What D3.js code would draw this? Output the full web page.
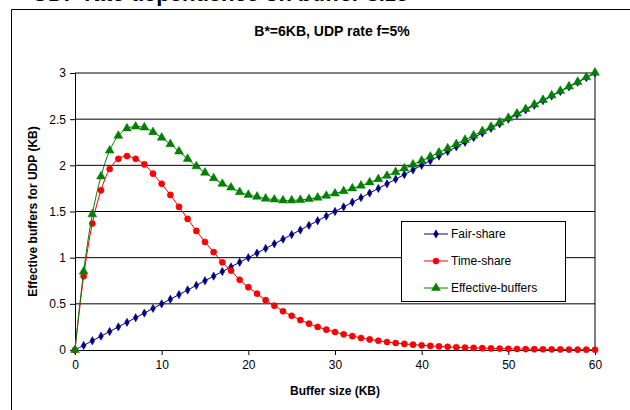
<!DOCTYPE html>
<html>
<head>
<meta charset="utf-8">
<script src="https://cdn.jsdelivr.net/npm/d3@7"></script>
<style>
  html, body { margin: 0; padding: 0; background: #fff; }
  svg { display: block; }
  text { font-family: "Liberation Sans", Arial, sans-serif; fill: #000; }
</style>
</head>
<body>
<svg id="chart" width="630" height="410"></svg>
<script>
// Buffer size in KB (x axis)
const bufferSize = d3.range(0, 61);

// Fair-share of buffers for UDP (KB)
const fairShare = [
  0.00, 0.05, 0.10, 0.15, 0.20, 0.25, 0.30, 0.35, 0.40, 0.45, 0.50,
  0.55, 0.60, 0.65, 0.70, 0.75, 0.80, 0.85, 0.90, 0.95, 1.00,
  1.05, 1.10, 1.15, 1.20, 1.25, 1.30, 1.35, 1.40, 1.45, 1.50,
  1.55, 1.60, 1.65, 1.70, 1.75, 1.80, 1.85, 1.90, 1.95, 2.00,
  2.05, 2.10, 2.15, 2.20, 2.25, 2.30, 2.35, 2.40, 2.45, 2.50,
  2.55, 2.60, 2.65, 2.70, 2.75, 2.80, 2.85, 2.90, 2.95, 3.00
];

// Time-share of buffers for UDP (KB)
const timeShare = [
  0.00, 0.80, 1.37, 1.73, 1.96, 2.07, 2.10, 2.07, 2.01, 1.91, 1.80,
  1.68, 1.55, 1.42, 1.29, 1.17, 1.06, 0.95, 0.86, 0.76, 0.68,
  0.61, 0.54, 0.48, 0.42, 0.37, 0.325, 0.285, 0.25, 0.22, 0.195,
  0.17, 0.15, 0.13, 0.115, 0.10, 0.087, 0.076, 0.066, 0.058, 0.051,
  0.044, 0.039, 0.034, 0.030, 0.026, 0.023, 0.020, 0.017, 0.015, 0.013,
  0.011, 0.010, 0.009, 0.008, 0.007, 0.006, 0.005, 0.004, 0.004, 0.003
];

// Effective buffers for UDP (KB)
const effectiveBuffers = [
  0.00, 0.85, 1.47, 1.88, 2.16, 2.32, 2.40, 2.42, 2.41, 2.36, 2.30,
  2.23, 2.15, 2.07, 1.99, 1.92, 1.86, 1.80, 1.76, 1.71, 1.68,
  1.66, 1.64, 1.63, 1.62, 1.62, 1.625, 1.635, 1.65, 1.67, 1.695,
  1.72, 1.75, 1.78, 1.815, 1.85, 1.887, 1.926, 1.966, 2.008, 2.051,
  2.094, 2.139, 2.184, 2.230, 2.276, 2.323, 2.370, 2.417, 2.465, 2.513,
  2.561, 2.610, 2.659, 2.708, 2.757, 2.806, 2.855, 2.904, 2.954, 3.003
];

const xTicks = [0, 10, 20, 30, 40, 50, 60];
const yTicks = [0, 0.5, 1, 1.5, 2, 2.5, 3];
const seriesNames = ["Fair-share", "Time-share", "Effective-buffers"];

const svg = d3.select("#chart");

// Heading line above the chart frame (runs off the top edge)
svg.append("text")
  .attr("x", 32).attr("y", 1)
  .attr("font-size", 22).attr("font-weight", "bold")
  .text("UDP rate dependence on buffer size");

// Chart frame
svg.append("path")
  .attr("d", "M11.5,420 V9.5 H640")
  .attr("fill", "none").attr("stroke", "#000").attr("stroke-width", 1);

const x = d3.scaleLinear().domain([0, 60]).range([75, 595]);
const y = d3.scaleLinear().domain([0, 3]).range([350, 73]);

// Horizontal gridlines
svg.append("g").selectAll("line")
  .data(yTicks.filter(d => d > 0))
  .join("line")
  .attr("x1", x(0)).attr("x2", x(60))
  .attr("y1", d => y(d)).attr("y2", d => y(d))
  .attr("stroke", "#000").attr("stroke-width", 1);

// Right edge of plot area
svg.append("line")
  .attr("x1", x(60)).attr("x2", x(60))
  .attr("y1", y(3)).attr("y2", y(0))
  .attr("stroke", "#000").attr("stroke-width", 1);

// Axes
const xAxis = svg.append("g")
  .attr("transform", `translate(0,${y(0)})`)
  .call(d3.axisBottom(x).tickValues(xTicks).tickSize(5).tickPadding(5).tickFormat(d3.format("d")));
const yAxis = svg.append("g")
  .attr("transform", `translate(${x(0)},0)`)
  .call(d3.axisLeft(y).tickValues(yTicks).tickSize(5).tickPadding(4).tickFormat(d => String(d)));
[xAxis, yAxis].forEach(g => {
  g.select(".domain").attr("stroke", "#000");
  g.selectAll(".tick line").attr("stroke", "#000");
  g.selectAll(".tick text")
    .attr("font-family", "Liberation Sans, Arial, sans-serif")
    .attr("font-size", 12).attr("fill", "#000");
});

// Titles
svg.append("text")
  .attr("x", 332).attr("y", 36)
  .attr("text-anchor", "middle")
  .attr("font-size", 14).attr("font-weight", "bold")
  .text("B*=6KB, UDP rate f=5%");

svg.append("text")
  .attr("x", 335).attr("y", 395)
  .attr("text-anchor", "middle")
  .attr("font-size", 12).attr("font-weight", "bold")
  .text("Buffer size (KB)");

svg.append("text")
  .attr("transform", `translate(37,${(y(0) + y(3)) / 2}) rotate(-90)`)
  .attr("text-anchor", "middle")
  .attr("font-size", 12).attr("font-weight", "bold")
  .text("Effective buffers for UDP (KB)");

// Series
const series = [
  { name: seriesNames[0], values: fairShare, color: "#000080", symbol: d3.symbolDiamond, size: 20 },
  { name: seriesNames[1], values: timeShare, color: "#FF0000", symbol: d3.symbolCircle, size: 30 },
  { name: seriesNames[2], values: effectiveBuffers, color: "#008000", symbol: d3.symbolTriangle, size: 34 }
];

const line = d3.line()
  .x((d, i) => x(bufferSize[i]))
  .y(d => y(d))
  .curve(d3.curveCatmullRom.alpha(0.5));

series.forEach(s => {
  const g = svg.append("g");
  g.append("path")
    .attr("d", line(s.values))
    .attr("fill", "none")
    .attr("stroke", s.color)
    .attr("stroke-width", 1);
  g.selectAll("path.mark")
    .data(s.values)
    .join("path")
    .attr("class", "mark")
    .attr("transform", (d, i) => `translate(${x(bufferSize[i])},${y(d)})`)
    .attr("d", d3.symbol().type(s.symbol).size(s.size))
    .attr("fill", s.color)
    .attr("stroke", s.color)
    .attr("stroke-width", 0.5);
});

// Legend
const legend = svg.append("g");
legend.append("rect")
  .attr("x", 401.5).attr("y", 221.5)
  .attr("width", 164).attr("height", 80)
  .attr("fill", "#fff").attr("stroke", "#000").attr("stroke-width", 1);

series.forEach((s, i) => {
  const cy = 234 + i * 27;
  legend.append("line")
    .attr("x1", 424).attr("x2", 448)
    .attr("y1", cy).attr("y2", cy)
    .attr("stroke", s.color).attr("stroke-width", 1);
  legend.append("path")
    .attr("transform", `translate(436,${cy})`)
    .attr("d", d3.symbol().type(s.symbol).size(s.size))
    .attr("fill", s.color).attr("stroke", s.color).attr("stroke-width", 0.5);
  legend.append("text")
    .attr("x", 451).attr("y", cy + 4)
    .attr("font-size", 12)
    .text(s.name);
});
</script>
</body>
</html>
